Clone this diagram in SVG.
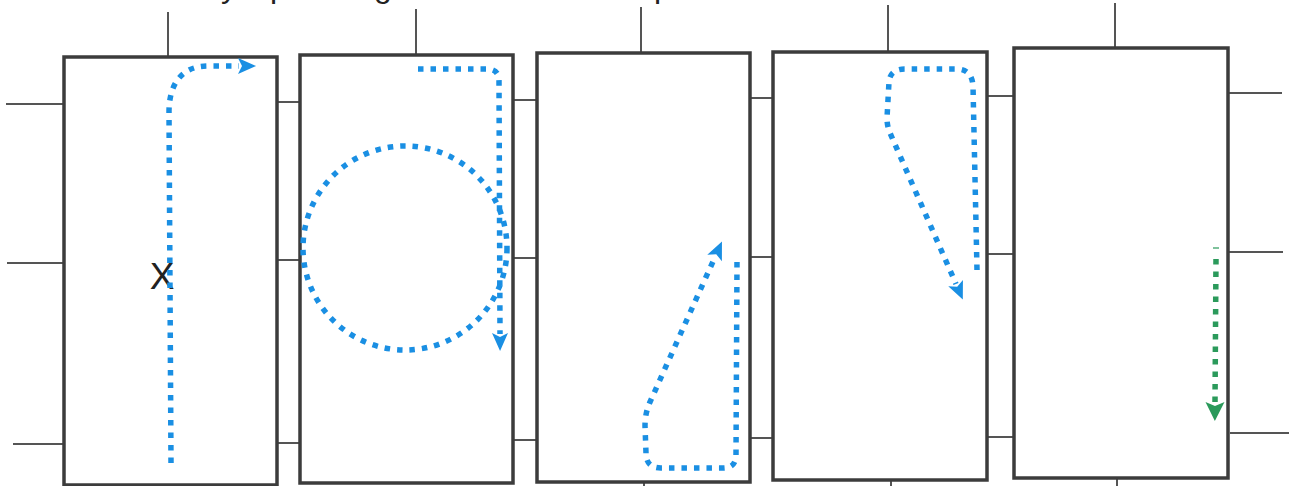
<svg xmlns="http://www.w3.org/2000/svg" width="1295" height="486" viewBox="0 0 1295 486">
<style>
.box{fill:#fff;stroke:#3c3c3c;stroke-width:3.5}
.tick{stroke:#1e1e1e;stroke-width:1.5;fill:none}
.blue{fill:none;stroke:#1a8fe3;stroke-width:5.5;stroke-dasharray:5.5 7;stroke-linejoin:round}
.green{fill:none;stroke:#2b9a5b;stroke-width:5.5;stroke-dasharray:5.5 7}
.lbl{font-family:"Liberation Sans",Arial,sans-serif;fill:#222}
</style>
<defs>
<marker id="ab" markerUnits="userSpaceOnUse" markerWidth="20" markerHeight="20" refX="1" refY="0" orient="auto" overflow="visible">
<path d="M0,-8 L18,0 L0,8 L4,0 z" fill="#1a8fe3"/>
</marker>
<marker id="ag" markerUnits="userSpaceOnUse" markerWidth="20" markerHeight="20" refX="1" refY="0" orient="auto" overflow="visible">
<path d="M0,-9.5 L19,0 L0,9.5 L4,0 z" fill="#2b9a5b"/>
</marker>
</defs>
<text class="lbl" font-size="32" y="-3"><tspan x="221">y</tspan><tspan x="270">p</tspan><tspan x="374">g</tspan><tspan x="654">p</tspan></text>
<g id="ticks">
<path class="tick" d="M168,12V57 M416,9V55 M641,7V53 M888,5V52 M1115,3V48"/>
<path class="tick" d="M6,104H64 M7,263H64 M13,444H64"/>
<path class="tick" d="M278,102H300 M278,260H300 M278,443H300"/>
<path class="tick" d="M513,100H537 M513,258H537 M513,440H537"/>
<path class="tick" d="M750,98H773 M750,257H773 M750,438H773"/>
<path class="tick" d="M987,96H1014 M987,254H1014 M987,437H1014"/>
<path class="tick" d="M1228,93H1282 M1229,252H1283 M1230,433H1289"/>
<path class="tick" d="M644,482V486 M891,480V486 M1117,478V486"/>
</g>
<g id="box1"><rect class="box" x="64" y="57" width="213" height="428"/><text class="lbl" x="162" y="289" font-size="37" font-weight="300" text-anchor="middle">X</text></g>
<g id="box2"><rect class="box" x="300" y="55" width="213" height="428"/></g>
<g id="box3"><rect class="box" x="537" y="53" width="213" height="429"/></g>
<g id="box4"><rect class="box" x="773" y="52" width="214" height="428"/></g>
<g id="box5"><rect class="box" x="1014" y="48" width="214" height="430"/></g>
<g id="connectors">
<path class="blue" marker-end="url(#ab)" d="M171,463 L169,112 C169,86 180,66 208,66 L239,66"/>
<path class="blue" marker-end="url(#ab)" d="M418,69 L487,69 Q499,69 499,81 L500,334"/>
<circle class="blue" cx="405" cy="248" r="102"/>
<path class="blue" marker-end="url(#ab)" d="M737,262 L736,455 Q736,468 723,468 L661,468 Q646,468 646,453 L645,426 Q645,413 650,402 L715,257"/>
<path class="blue" marker-end="url(#ab)" d="M977,270 L973,86 Q972,70 958,69 L905,69 Q890,69 889,82 L887,118 Q887,126 890,133 L956,284"/>
<path class="green" marker-end="url(#ag)" d="M1216,259 L1215,403"/>
<path d="M1213,248H1219" stroke="#2b9a5b" stroke-width="1.2"/>
</g>
</svg>
